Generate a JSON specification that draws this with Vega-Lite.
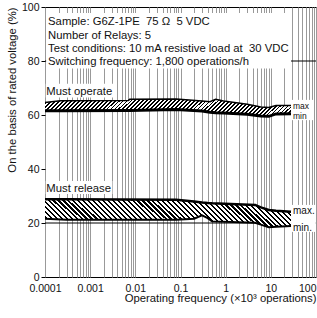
{
"$schema": "https://vega.github.io/schema/vega-lite/v6.json",
"width": 271, "height": 270,
"autosize": {"type": "none"},
"padding": {"left": 45, "top": 7, "right": 1, "bottom": 41},
"background": "white",
"config": {"view": {"stroke": "#000", "strokeWidth": 1}, "font": "Liberation Sans"},
"datasets": {
 "hl": [{"y": 20}, {"y": 80}],
 "boxes": [
  {"x": 0.000106, "x2": 28, "y": 77.2, "y2": 97.8},
  {"x": 0.000104, "x2": 0.0035, "y": 66.5, "y2": 71.6},
  {"x": 0.000104, "x2": 0.0031, "y": 30.7, "y2": 35.6},
  {"x": 28, "x2": 90, "y": 58.1, "y2": 65.6},
  {"x": 28, "x2": 99, "y": 16.7, "y2": 26.7}
 ],
 "op": [
  {"x": 0.0001, "max": 64.6, "min": 61.6},
  {"x": 0.00022, "max": 65.3, "min": 61.6},
  {"x": 0.007, "max": 65.4, "min": 61.7},
  {"x": 0.0075, "max": 65.8, "min": 61.7},
  {"x": 0.08, "max": 65.9, "min": 62.0},
  {"x": 0.3, "max": 65.2, "min": 61.5},
  {"x": 0.45, "max": 64.9, "min": 61.0},
  {"x": 0.6, "max": 65.8, "min": 60.8},
  {"x": 0.9, "max": 65.2, "min": 60.7},
  {"x": 3, "max": 64.0, "min": 60.3},
  {"x": 6, "max": 63.0, "min": 59.6},
  {"x": 9, "max": 62.8, "min": 59.5},
  {"x": 13, "max": 63.5, "min": 60.4},
  {"x": 28, "max": 63.5, "min": 60.5}
 ],
 "rel": [
  {"x": 0.0001, "max": 28.8, "min": 21.6},
  {"x": 0.0003, "max": 28.8, "min": 21.2},
  {"x": 0.08, "max": 28.6, "min": 21.2},
  {"x": 0.2, "max": 28.0, "min": 21.6},
  {"x": 0.3, "max": 27.6, "min": 22.8},
  {"x": 0.4, "max": 27.4, "min": 21.8},
  {"x": 0.5, "max": 27.3, "min": 20.6},
  {"x": 4.5, "max": 26.7, "min": 20.1},
  {"x": 6, "max": 25.8, "min": 19.4},
  {"x": 9, "max": 24.8, "min": 18.4},
  {"x": 13, "max": 24.5, "min": 18.6},
  {"x": 28, "max": 24.2, "min": 18.9}
 ],
 "notes": [
  {"x": 0.000117, "y": 93.3, "t": "Sample: G6Z-1PE\u00a0\u00a075\u00a0Ω\u00a0\u00a05 VDC"},
  {"x": 0.000117, "y": 88.3, "t": "Number of Relays: 5"},
  {"x": 0.000117, "y": 83.3, "t": "Test conditions: 10 mA resistive load at\u00a0\u00a030 VDC"},
  {"x": 0.000117, "y": 78.5, "t": "Switching frequency: 1,800 operations/h"},
  {"x": 0.000107, "y": 67.4, "t": "Must operate"},
  {"x": 0.000107, "y": 31.5, "t": "Must release"}
 ],
 "opl": [{"x": 31, "y": 63.5, "t": "max"}, {"x": 31, "y": 59.6, "t": "min"}],
 "rell": [{"x": 31, "y": 24.3, "t": "max."}, {"x": 31, "y": 18.3, "t": "min."}]
},
"layer": [
 {"data": {"name": "hl"}, "mark": {"type": "rule", "color": "#000", "strokeWidth": 1},
  "encoding": {"y": {"field": "y", "type": "quantitative", "scale": {"domain": [0, 100], "nice": false, "zero": false},
   "title": "On the basis of rated voltage (%)",
   "axis": {"values": [0, 20, 40, 60, 80, 100], "grid": false, "domain": false, "ticks": true, "tickSize": 4, "tickColor": "#000",
    "labelFontSize": 10.5, "labelColor": "#111", "labelPadding": 2, "labelFont": "Liberation Sans", "labelBaseline": "alphabetic", "labelOffset": 3.5,
    "titleAnchor": "end", "titleFontSize": 11.3, "titleFontWeight": "normal", "titleColor": "#111", "titlePadding": 4, "titleFont": "Liberation Sans"}}}},
 {"data": {"name": "boxes"}, "mark": {"type": "rect", "fill": "#fff"},
  "encoding": {
   "x": {"field": "x", "type": "quantitative", "scale": {"type": "log", "domain": [0.0001, 100], "nice": false},
    "title": "Operating frequency (×10³ operations)",
    "axis": {"values": [0.0001,0.0002,0.0003,0.0004,0.0005,0.0006,0.0007,0.0008,0.0009,0.001,0.002,0.003,0.004,0.005,0.006,0.007,0.008,0.009,0.01,0.02,0.03,0.04,0.05,0.06,0.07,0.08,0.09,0.1,0.2,0.3,0.4,0.5,0.6,0.7,0.8,0.9,1,2,3,4,5,6,7,8,9,10,20,30,40,50,60,70,80,90,100],
     "labelExpr": "abs(log(datum.value)/LN10 - round(log(datum.value)/LN10)) < 0.001 ? format(datum.value, '~g') : ''",
     "grid": true, "gridColor": "#999", "gridWidth": 1, "gridOpacity": 1, "ticks": false, "domain": false,
     "labelFontSize": 10.5, "labelColor": "#111", "labelPadding": 6, "labelOverlap": false, "labelFlush": false, "labelFont": "Liberation Sans",
     "labelAlign": {"expr": "datum.value >= 100 ? 'right' : 'center'"},
     "titleAnchor": "end", "titleFontSize": 11.3, "titleFontWeight": "normal", "titleColor": "#111", "titlePadding": -1, "titleFont": "Liberation Sans"}},
   "x2": {"field": "x2"},
   "y": {"field": "y", "type": "quantitative", "scale": {"domain": [0, 100], "nice": false, "zero": false}, "title": "On the basis of rated voltage (%)"},
   "y2": {"field": "y2"}}},
 {"data": {"name": "op"}, "mark": {"type": "area", "fill": {"gradient": "linear", "x1": 0, "y1": 0, "x2": 1.066, "y2": 0.0758, "stops": [
  {"offset":0,"color":"#000"},{"offset":0.007,"color":"#000"},{"offset":0.007,"color":"#fff"},{"offset":0.015,"color":"#fff"},
  {"offset":0.015,"color":"#000"},{"offset":0.022,"color":"#000"},{"offset":0.022,"color":"#fff"},{"offset":0.03,"color":"#fff"},
  {"offset":0.03,"color":"#000"},{"offset":0.037,"color":"#000"},{"offset":0.037,"color":"#fff"},{"offset":0.045,"color":"#fff"},
  {"offset":0.045,"color":"#000"},{"offset":0.052,"color":"#000"},{"offset":0.052,"color":"#fff"},{"offset":0.06,"color":"#fff"},
  {"offset":0.06,"color":"#000"},{"offset":0.067,"color":"#000"},{"offset":0.067,"color":"#fff"},{"offset":0.075,"color":"#fff"},
  {"offset":0.075,"color":"#000"},{"offset":0.082,"color":"#000"},{"offset":0.082,"color":"#fff"},{"offset":0.09,"color":"#fff"},
  {"offset":0.09,"color":"#000"},{"offset":0.097,"color":"#000"},{"offset":0.097,"color":"#fff"},{"offset":0.105,"color":"#fff"},
  {"offset":0.105,"color":"#000"},{"offset":0.112,"color":"#000"},{"offset":0.112,"color":"#fff"},{"offset":0.12,"color":"#fff"},
  {"offset":0.12,"color":"#000"},{"offset":0.127,"color":"#000"},{"offset":0.127,"color":"#fff"},{"offset":0.135,"color":"#fff"},
  {"offset":0.135,"color":"#000"},{"offset":0.142,"color":"#000"},{"offset":0.142,"color":"#fff"},{"offset":0.15,"color":"#fff"},
  {"offset":0.15,"color":"#000"},{"offset":0.157,"color":"#000"},{"offset":0.157,"color":"#fff"},{"offset":0.165,"color":"#fff"},
  {"offset":0.165,"color":"#000"},{"offset":0.172,"color":"#000"},{"offset":0.172,"color":"#fff"},{"offset":0.18,"color":"#fff"},
  {"offset":0.18,"color":"#000"},{"offset":0.187,"color":"#000"},{"offset":0.187,"color":"#fff"},{"offset":0.195,"color":"#fff"},
  {"offset":0.195,"color":"#000"},{"offset":0.202,"color":"#000"},{"offset":0.202,"color":"#fff"},{"offset":0.21,"color":"#fff"},
  {"offset":0.21,"color":"#000"},{"offset":0.217,"color":"#000"},{"offset":0.217,"color":"#fff"},{"offset":0.225,"color":"#fff"},
  {"offset":0.225,"color":"#000"},{"offset":0.232,"color":"#000"},{"offset":0.232,"color":"#fff"},{"offset":0.24,"color":"#fff"},
  {"offset":0.24,"color":"#000"},{"offset":0.247,"color":"#000"},{"offset":0.247,"color":"#fff"},{"offset":0.255,"color":"#fff"},
  {"offset":0.255,"color":"#000"},{"offset":0.262,"color":"#000"},{"offset":0.262,"color":"#fff"},{"offset":0.27,"color":"#fff"},
  {"offset":0.27,"color":"#000"},{"offset":0.277,"color":"#000"},{"offset":0.277,"color":"#fff"},{"offset":0.285,"color":"#fff"},
  {"offset":0.285,"color":"#000"},{"offset":0.292,"color":"#000"},{"offset":0.292,"color":"#fff"},{"offset":0.3,"color":"#fff"},
  {"offset":0.3,"color":"#000"},{"offset":0.307,"color":"#000"},{"offset":0.307,"color":"#fff"},{"offset":0.315,"color":"#fff"},
  {"offset":0.315,"color":"#000"},{"offset":0.322,"color":"#000"},{"offset":0.322,"color":"#fff"},{"offset":0.33,"color":"#fff"},
  {"offset":0.33,"color":"#000"},{"offset":0.337,"color":"#000"},{"offset":0.337,"color":"#fff"},{"offset":0.345,"color":"#fff"},
  {"offset":0.345,"color":"#000"},{"offset":0.352,"color":"#000"},{"offset":0.352,"color":"#fff"},{"offset":0.36,"color":"#fff"},
  {"offset":0.36,"color":"#000"},{"offset":0.367,"color":"#000"},{"offset":0.367,"color":"#fff"},{"offset":0.375,"color":"#fff"},
  {"offset":0.375,"color":"#000"},{"offset":0.382,"color":"#000"},{"offset":0.382,"color":"#fff"},{"offset":0.39,"color":"#fff"},
  {"offset":0.39,"color":"#000"},{"offset":0.397,"color":"#000"},{"offset":0.397,"color":"#fff"},{"offset":0.405,"color":"#fff"},
  {"offset":0.405,"color":"#000"},{"offset":0.412,"color":"#000"},{"offset":0.412,"color":"#fff"},{"offset":0.42,"color":"#fff"},
  {"offset":0.42,"color":"#000"},{"offset":0.427,"color":"#000"},{"offset":0.427,"color":"#fff"},{"offset":0.435,"color":"#fff"},
  {"offset":0.435,"color":"#000"},{"offset":0.442,"color":"#000"},{"offset":0.442,"color":"#fff"},{"offset":0.45,"color":"#fff"},
  {"offset":0.45,"color":"#000"},{"offset":0.457,"color":"#000"},{"offset":0.457,"color":"#fff"},{"offset":0.465,"color":"#fff"},
  {"offset":0.465,"color":"#000"},{"offset":0.472,"color":"#000"},{"offset":0.472,"color":"#fff"},{"offset":0.48,"color":"#fff"},
  {"offset":0.48,"color":"#000"},{"offset":0.487,"color":"#000"},{"offset":0.487,"color":"#fff"},{"offset":0.495,"color":"#fff"},
  {"offset":0.495,"color":"#000"},{"offset":0.502,"color":"#000"},{"offset":0.502,"color":"#fff"},{"offset":0.51,"color":"#fff"},
  {"offset":0.51,"color":"#000"},{"offset":0.517,"color":"#000"},{"offset":0.517,"color":"#fff"},{"offset":0.525,"color":"#fff"},
  {"offset":0.525,"color":"#000"},{"offset":0.532,"color":"#000"},{"offset":0.532,"color":"#fff"},{"offset":0.54,"color":"#fff"},
  {"offset":0.54,"color":"#000"},{"offset":0.547,"color":"#000"},{"offset":0.547,"color":"#fff"},{"offset":0.555,"color":"#fff"},
  {"offset":0.555,"color":"#000"},{"offset":0.562,"color":"#000"},{"offset":0.562,"color":"#fff"},{"offset":0.57,"color":"#fff"},
  {"offset":0.57,"color":"#000"},{"offset":0.577,"color":"#000"},{"offset":0.577,"color":"#fff"},{"offset":0.585,"color":"#fff"},
  {"offset":0.585,"color":"#000"},{"offset":0.592,"color":"#000"},{"offset":0.592,"color":"#fff"},{"offset":0.6,"color":"#fff"},
  {"offset":0.6,"color":"#000"},{"offset":0.607,"color":"#000"},{"offset":0.607,"color":"#fff"},{"offset":0.615,"color":"#fff"},
  {"offset":0.615,"color":"#000"},{"offset":0.622,"color":"#000"},{"offset":0.622,"color":"#fff"},{"offset":0.63,"color":"#fff"},
  {"offset":0.63,"color":"#000"},{"offset":0.637,"color":"#000"},{"offset":0.637,"color":"#fff"},{"offset":0.645,"color":"#fff"},
  {"offset":0.645,"color":"#000"},{"offset":0.652,"color":"#000"},{"offset":0.652,"color":"#fff"},{"offset":0.66,"color":"#fff"},
  {"offset":0.66,"color":"#000"},{"offset":0.667,"color":"#000"},{"offset":0.667,"color":"#fff"},{"offset":0.675,"color":"#fff"},
  {"offset":0.675,"color":"#000"},{"offset":0.682,"color":"#000"},{"offset":0.682,"color":"#fff"},{"offset":0.69,"color":"#fff"},
  {"offset":0.69,"color":"#000"},{"offset":0.697,"color":"#000"},{"offset":0.697,"color":"#fff"},{"offset":0.705,"color":"#fff"},
  {"offset":0.705,"color":"#000"},{"offset":0.712,"color":"#000"},{"offset":0.712,"color":"#fff"},{"offset":0.72,"color":"#fff"},
  {"offset":0.72,"color":"#000"},{"offset":0.727,"color":"#000"},{"offset":0.727,"color":"#fff"},{"offset":0.735,"color":"#fff"},
  {"offset":0.735,"color":"#000"},{"offset":0.742,"color":"#000"},{"offset":0.742,"color":"#fff"},{"offset":0.75,"color":"#fff"},
  {"offset":0.75,"color":"#000"},{"offset":0.757,"color":"#000"},{"offset":0.757,"color":"#fff"},{"offset":0.765,"color":"#fff"},
  {"offset":0.765,"color":"#000"},{"offset":0.772,"color":"#000"},{"offset":0.772,"color":"#fff"},{"offset":0.78,"color":"#fff"},
  {"offset":0.78,"color":"#000"},{"offset":0.787,"color":"#000"},{"offset":0.787,"color":"#fff"},{"offset":0.795,"color":"#fff"},
  {"offset":0.795,"color":"#000"},{"offset":0.802,"color":"#000"},{"offset":0.802,"color":"#fff"},{"offset":0.81,"color":"#fff"},
  {"offset":0.81,"color":"#000"},{"offset":0.817,"color":"#000"},{"offset":0.817,"color":"#fff"},{"offset":0.825,"color":"#fff"},
  {"offset":0.825,"color":"#000"},{"offset":0.832,"color":"#000"},{"offset":0.832,"color":"#fff"},{"offset":0.84,"color":"#fff"},
  {"offset":0.84,"color":"#000"},{"offset":0.847,"color":"#000"},{"offset":0.847,"color":"#fff"},{"offset":0.855,"color":"#fff"},
  {"offset":0.855,"color":"#000"},{"offset":0.862,"color":"#000"},{"offset":0.862,"color":"#fff"},{"offset":0.87,"color":"#fff"},
  {"offset":0.87,"color":"#000"},{"offset":0.877,"color":"#000"},{"offset":0.877,"color":"#fff"},{"offset":0.885,"color":"#fff"},
  {"offset":0.885,"color":"#000"},{"offset":0.892,"color":"#000"},{"offset":0.892,"color":"#fff"},{"offset":0.9,"color":"#fff"},
  {"offset":0.9,"color":"#000"},{"offset":0.907,"color":"#000"},{"offset":0.907,"color":"#fff"},{"offset":0.915,"color":"#fff"},
  {"offset":0.915,"color":"#000"},{"offset":0.922,"color":"#000"},{"offset":0.922,"color":"#fff"},{"offset":0.93,"color":"#fff"},
  {"offset":0.93,"color":"#000"},{"offset":0.937,"color":"#000"},{"offset":0.937,"color":"#fff"},{"offset":0.945,"color":"#fff"},
  {"offset":0.945,"color":"#000"},{"offset":0.952,"color":"#000"},{"offset":0.952,"color":"#fff"},{"offset":0.96,"color":"#fff"},
  {"offset":0.96,"color":"#000"},{"offset":0.967,"color":"#000"},{"offset":0.967,"color":"#fff"},{"offset":0.975,"color":"#fff"},
  {"offset":0.975,"color":"#000"},{"offset":0.982,"color":"#000"},{"offset":0.982,"color":"#fff"},{"offset":0.99,"color":"#fff"},
  {"offset":0.99,"color":"#000"},{"offset":0.997,"color":"#000"},{"offset":0.997,"color":"#fff"},{"offset":1,"color":"#fff"}
  ]}},
  "encoding": {
   "x": {"field": "x", "type": "quantitative", "scale": {"type": "log", "domain": [0.0001, 100], "nice": false}, "title": "Operating frequency (×10³ operations)"},
   "y": {"field": "max", "type": "quantitative", "scale": {"domain": [0, 100], "nice": false, "zero": false}, "title": "On the basis of rated voltage (%)"},
   "y2": {"field": "min"}}},
 {"data": {"name": "op"}, "mark": {"type": "line", "color": "#000", "strokeWidth": 1.5},
  "encoding": {
   "x": {"field": "x", "type": "quantitative", "scale": {"type": "log", "domain": [0.0001, 100], "nice": false}, "title": "Operating frequency (×10³ operations)"},
   "y": {"field": "max", "type": "quantitative", "scale": {"domain": [0, 100], "nice": false, "zero": false}, "title": "On the basis of rated voltage (%)"}}},
 {"data": {"name": "op"}, "mark": {"type": "line", "color": "#000", "strokeWidth": 3},
  "encoding": {
   "x": {"field": "x", "type": "quantitative", "scale": {"type": "log", "domain": [0.0001, 100], "nice": false}, "title": "Operating frequency (×10³ operations)"},
   "y": {"field": "min", "type": "quantitative", "scale": {"domain": [0, 100], "nice": false, "zero": false}, "title": "On the basis of rated voltage (%)"}}},
 {"data": {"name": "rel"}, "mark": {"type": "area", "fill": {"gradient": "linear", "x1": 0, "y1": 1, "x2": 1.1007, "y2": 0.873, "stops": [
  {"offset":0,"color":"#000"},{"offset":0.008,"color":"#000"},{"offset":0.008,"color":"#fff"},{"offset":0.018,"color":"#fff"},
  {"offset":0.018,"color":"#000"},{"offset":0.026,"color":"#000"},{"offset":0.026,"color":"#fff"},{"offset":0.036,"color":"#fff"},
  {"offset":0.036,"color":"#000"},{"offset":0.044,"color":"#000"},{"offset":0.044,"color":"#fff"},{"offset":0.054,"color":"#fff"},
  {"offset":0.054,"color":"#000"},{"offset":0.062,"color":"#000"},{"offset":0.062,"color":"#fff"},{"offset":0.072,"color":"#fff"},
  {"offset":0.072,"color":"#000"},{"offset":0.08,"color":"#000"},{"offset":0.08,"color":"#fff"},{"offset":0.09,"color":"#fff"},
  {"offset":0.09,"color":"#000"},{"offset":0.098,"color":"#000"},{"offset":0.098,"color":"#fff"},{"offset":0.108,"color":"#fff"},
  {"offset":0.108,"color":"#000"},{"offset":0.116,"color":"#000"},{"offset":0.116,"color":"#fff"},{"offset":0.126,"color":"#fff"},
  {"offset":0.126,"color":"#000"},{"offset":0.134,"color":"#000"},{"offset":0.134,"color":"#fff"},{"offset":0.144,"color":"#fff"},
  {"offset":0.144,"color":"#000"},{"offset":0.152,"color":"#000"},{"offset":0.152,"color":"#fff"},{"offset":0.162,"color":"#fff"},
  {"offset":0.162,"color":"#000"},{"offset":0.17,"color":"#000"},{"offset":0.17,"color":"#fff"},{"offset":0.18,"color":"#fff"},
  {"offset":0.18,"color":"#000"},{"offset":0.188,"color":"#000"},{"offset":0.188,"color":"#fff"},{"offset":0.198,"color":"#fff"},
  {"offset":0.198,"color":"#000"},{"offset":0.206,"color":"#000"},{"offset":0.206,"color":"#fff"},{"offset":0.216,"color":"#fff"},
  {"offset":0.216,"color":"#000"},{"offset":0.224,"color":"#000"},{"offset":0.224,"color":"#fff"},{"offset":0.234,"color":"#fff"},
  {"offset":0.234,"color":"#000"},{"offset":0.242,"color":"#000"},{"offset":0.242,"color":"#fff"},{"offset":0.252,"color":"#fff"},
  {"offset":0.252,"color":"#000"},{"offset":0.26,"color":"#000"},{"offset":0.26,"color":"#fff"},{"offset":0.27,"color":"#fff"},
  {"offset":0.27,"color":"#000"},{"offset":0.278,"color":"#000"},{"offset":0.278,"color":"#fff"},{"offset":0.288,"color":"#fff"},
  {"offset":0.288,"color":"#000"},{"offset":0.296,"color":"#000"},{"offset":0.296,"color":"#fff"},{"offset":0.306,"color":"#fff"},
  {"offset":0.306,"color":"#000"},{"offset":0.314,"color":"#000"},{"offset":0.314,"color":"#fff"},{"offset":0.324,"color":"#fff"},
  {"offset":0.324,"color":"#000"},{"offset":0.332,"color":"#000"},{"offset":0.332,"color":"#fff"},{"offset":0.342,"color":"#fff"},
  {"offset":0.342,"color":"#000"},{"offset":0.35,"color":"#000"},{"offset":0.35,"color":"#fff"},{"offset":0.36,"color":"#fff"},
  {"offset":0.36,"color":"#000"},{"offset":0.368,"color":"#000"},{"offset":0.368,"color":"#fff"},{"offset":0.378,"color":"#fff"},
  {"offset":0.378,"color":"#000"},{"offset":0.386,"color":"#000"},{"offset":0.386,"color":"#fff"},{"offset":0.396,"color":"#fff"},
  {"offset":0.396,"color":"#000"},{"offset":0.404,"color":"#000"},{"offset":0.404,"color":"#fff"},{"offset":0.414,"color":"#fff"},
  {"offset":0.414,"color":"#000"},{"offset":0.422,"color":"#000"},{"offset":0.422,"color":"#fff"},{"offset":0.432,"color":"#fff"},
  {"offset":0.432,"color":"#000"},{"offset":0.44,"color":"#000"},{"offset":0.44,"color":"#fff"},{"offset":0.45,"color":"#fff"},
  {"offset":0.45,"color":"#000"},{"offset":0.458,"color":"#000"},{"offset":0.458,"color":"#fff"},{"offset":0.468,"color":"#fff"},
  {"offset":0.468,"color":"#000"},{"offset":0.476,"color":"#000"},{"offset":0.476,"color":"#fff"},{"offset":0.486,"color":"#fff"},
  {"offset":0.486,"color":"#000"},{"offset":0.494,"color":"#000"},{"offset":0.494,"color":"#fff"},{"offset":0.504,"color":"#fff"},
  {"offset":0.504,"color":"#000"},{"offset":0.512,"color":"#000"},{"offset":0.512,"color":"#fff"},{"offset":0.522,"color":"#fff"},
  {"offset":0.522,"color":"#000"},{"offset":0.53,"color":"#000"},{"offset":0.53,"color":"#fff"},{"offset":0.54,"color":"#fff"},
  {"offset":0.54,"color":"#000"},{"offset":0.548,"color":"#000"},{"offset":0.548,"color":"#fff"},{"offset":0.558,"color":"#fff"},
  {"offset":0.558,"color":"#000"},{"offset":0.566,"color":"#000"},{"offset":0.566,"color":"#fff"},{"offset":0.576,"color":"#fff"},
  {"offset":0.576,"color":"#000"},{"offset":0.584,"color":"#000"},{"offset":0.584,"color":"#fff"},{"offset":0.594,"color":"#fff"},
  {"offset":0.594,"color":"#000"},{"offset":0.602,"color":"#000"},{"offset":0.602,"color":"#fff"},{"offset":0.612,"color":"#fff"},
  {"offset":0.612,"color":"#000"},{"offset":0.62,"color":"#000"},{"offset":0.62,"color":"#fff"},{"offset":0.63,"color":"#fff"},
  {"offset":0.63,"color":"#000"},{"offset":0.638,"color":"#000"},{"offset":0.638,"color":"#fff"},{"offset":0.648,"color":"#fff"},
  {"offset":0.648,"color":"#000"},{"offset":0.656,"color":"#000"},{"offset":0.656,"color":"#fff"},{"offset":0.666,"color":"#fff"},
  {"offset":0.666,"color":"#000"},{"offset":0.674,"color":"#000"},{"offset":0.674,"color":"#fff"},{"offset":0.684,"color":"#fff"},
  {"offset":0.684,"color":"#000"},{"offset":0.692,"color":"#000"},{"offset":0.692,"color":"#fff"},{"offset":0.702,"color":"#fff"},
  {"offset":0.702,"color":"#000"},{"offset":0.71,"color":"#000"},{"offset":0.71,"color":"#fff"},{"offset":0.72,"color":"#fff"},
  {"offset":0.72,"color":"#000"},{"offset":0.728,"color":"#000"},{"offset":0.728,"color":"#fff"},{"offset":0.738,"color":"#fff"},
  {"offset":0.738,"color":"#000"},{"offset":0.746,"color":"#000"},{"offset":0.746,"color":"#fff"},{"offset":0.756,"color":"#fff"},
  {"offset":0.756,"color":"#000"},{"offset":0.764,"color":"#000"},{"offset":0.764,"color":"#fff"},{"offset":0.774,"color":"#fff"},
  {"offset":0.774,"color":"#000"},{"offset":0.782,"color":"#000"},{"offset":0.782,"color":"#fff"},{"offset":0.792,"color":"#fff"},
  {"offset":0.792,"color":"#000"},{"offset":0.8,"color":"#000"},{"offset":0.8,"color":"#fff"},{"offset":0.81,"color":"#fff"},
  {"offset":0.81,"color":"#000"},{"offset":0.818,"color":"#000"},{"offset":0.818,"color":"#fff"},{"offset":0.828,"color":"#fff"},
  {"offset":0.828,"color":"#000"},{"offset":0.836,"color":"#000"},{"offset":0.836,"color":"#fff"},{"offset":0.846,"color":"#fff"},
  {"offset":0.846,"color":"#000"},{"offset":0.854,"color":"#000"},{"offset":0.854,"color":"#fff"},{"offset":0.864,"color":"#fff"},
  {"offset":0.864,"color":"#000"},{"offset":0.872,"color":"#000"},{"offset":0.872,"color":"#fff"},{"offset":0.882,"color":"#fff"},
  {"offset":0.882,"color":"#000"},{"offset":0.89,"color":"#000"},{"offset":0.89,"color":"#fff"},{"offset":0.9,"color":"#fff"},
  {"offset":0.9,"color":"#000"},{"offset":0.908,"color":"#000"},{"offset":0.908,"color":"#fff"},{"offset":0.918,"color":"#fff"},
  {"offset":0.918,"color":"#000"},{"offset":0.926,"color":"#000"},{"offset":0.926,"color":"#fff"},{"offset":0.936,"color":"#fff"},
  {"offset":0.936,"color":"#000"},{"offset":0.944,"color":"#000"},{"offset":0.944,"color":"#fff"},{"offset":0.954,"color":"#fff"},
  {"offset":0.954,"color":"#000"},{"offset":0.962,"color":"#000"},{"offset":0.962,"color":"#fff"},{"offset":0.972,"color":"#fff"},
  {"offset":0.972,"color":"#000"},{"offset":0.98,"color":"#000"},{"offset":0.98,"color":"#fff"},{"offset":0.99,"color":"#fff"},
  {"offset":0.99,"color":"#000"},{"offset":0.998,"color":"#000"},{"offset":0.998,"color":"#fff"},{"offset":1,"color":"#fff"}
  ]}},
  "encoding": {
   "x": {"field": "x", "type": "quantitative", "scale": {"type": "log", "domain": [0.0001, 100], "nice": false}, "title": "Operating frequency (×10³ operations)"},
   "y": {"field": "max", "type": "quantitative", "scale": {"domain": [0, 100], "nice": false, "zero": false}, "title": "On the basis of rated voltage (%)"},
   "y2": {"field": "min"}}},
 {"data": {"name": "rel"}, "mark": {"type": "line", "color": "#000", "strokeWidth": 2.5},
  "encoding": {
   "x": {"field": "x", "type": "quantitative", "scale": {"type": "log", "domain": [0.0001, 100], "nice": false}, "title": "Operating frequency (×10³ operations)"},
   "y": {"field": "max", "type": "quantitative", "scale": {"domain": [0, 100], "nice": false, "zero": false}, "title": "On the basis of rated voltage (%)"}}},
 {"data": {"name": "rel"}, "mark": {"type": "line", "color": "#000", "strokeWidth": 2},
  "encoding": {
   "x": {"field": "x", "type": "quantitative", "scale": {"type": "log", "domain": [0.0001, 100], "nice": false}, "title": "Operating frequency (×10³ operations)"},
   "y": {"field": "min", "type": "quantitative", "scale": {"domain": [0, 100], "nice": false, "zero": false}, "title": "On the basis of rated voltage (%)"}}},
 {"data": {"name": "notes"}, "mark": {"type": "text", "align": "left", "baseline": "alphabetic", "fontSize": 11.3, "color": "#111", "font": "Liberation Sans"},
  "encoding": {
   "x": {"field": "x", "type": "quantitative", "scale": {"type": "log", "domain": [0.0001, 100], "nice": false}, "title": "Operating frequency (×10³ operations)"},
   "y": {"field": "y", "type": "quantitative", "scale": {"domain": [0, 100], "nice": false, "zero": false}, "title": "On the basis of rated voltage (%)"},
   "text": {"field": "t"}}},
 {"data": {"name": "opl"}, "mark": {"type": "text", "align": "left", "baseline": "middle", "fontSize": 8.5, "color": "#111", "font": "Liberation Sans"},
  "encoding": {
   "x": {"field": "x", "type": "quantitative", "scale": {"type": "log", "domain": [0.0001, 100], "nice": false}, "title": "Operating frequency (×10³ operations)"},
   "y": {"field": "y", "type": "quantitative", "scale": {"domain": [0, 100], "nice": false, "zero": false}, "title": "On the basis of rated voltage (%)"},
   "text": {"field": "t"}}},
 {"data": {"name": "rell"}, "mark": {"type": "text", "align": "left", "baseline": "middle", "fontSize": 10, "color": "#111", "font": "Liberation Sans"},
  "encoding": {
   "x": {"field": "x", "type": "quantitative", "scale": {"type": "log", "domain": [0.0001, 100], "nice": false}, "title": "Operating frequency (×10³ operations)"},
   "y": {"field": "y", "type": "quantitative", "scale": {"domain": [0, 100], "nice": false, "zero": false}, "title": "On the basis of rated voltage (%)"},
   "text": {"field": "t"}}}
]
}
